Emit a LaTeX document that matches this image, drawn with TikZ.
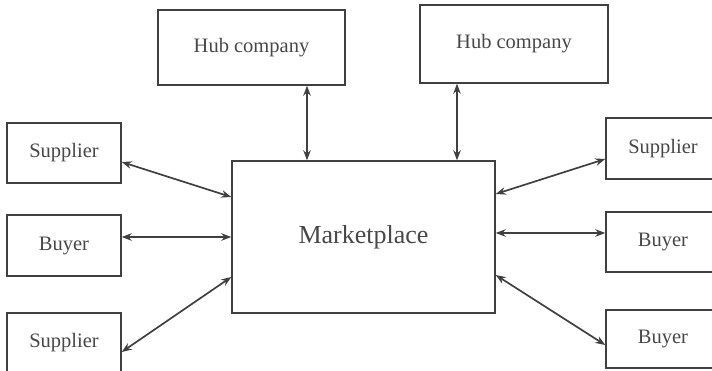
\documentclass[tikz,border=0pt]{standalone}
\usepackage{fontspec}
\setmainfont{Liberation Serif}
\usetikzlibrary{arrows.meta}
\definecolor{ink}{HTML}{404040}
\definecolor{txt}{HTML}{484848}
\tikzset{
  box/.style={draw=ink, line width=1.4pt, rectangle, text=txt, inner sep=0pt,
    font=\fontsize{20.5}{24}\selectfont},
  conn/.style={draw=ink, line width=1.7pt, {Stealth[length=10pt,width=7.5pt]}-{Stealth[length=10pt,width=7.5pt]}}
}
\begin{document}
\begin{tikzpicture}[x=1pt,y=-1pt]
\useasboundingbox (0,0) rectangle (712,370);
\clip (0,0) rectangle (712,370);
\fill[white] (0,0) rectangle (712,370);
\node[box, minimum width=187pt, minimum height=75pt] (hubL) at (251.5,47.5) {Hub company};
\node[box, minimum width=188pt, minimum height=78pt] (hubR) at (514,44) {Hub company};
\node[box, minimum width=263pt, minimum height=152pt, font=\fontsize{26}{30}\selectfont] (market) at (363.5,237) {Marketplace};
\node[box, minimum width=114pt, minimum height=60pt] (supL1) at (64,153) {Supplier};
\node[box, minimum width=114pt, minimum height=61pt] (buyL) at (64,245.5) {Buyer};
\node[box, minimum width=114pt, minimum height=60pt] (supL2) at (64,343) {Supplier};
\node[box, minimum width=114pt, minimum height=61pt] (supR) at (663,148.5) {Supplier};
\node[box, minimum width=114pt, minimum height=60pt] (buyR1) at (663,242) {Buyer};
\node[box, minimum width=114pt, minimum height=58pt] (buyR2) at (663,339) {Buyer};
\draw[conn] ([xshift=55.5pt]hubL.south) -- ([xshift=-56.5pt]market.north);
\draw[conn] ([xshift=-57pt]hubR.south) -- ([xshift=93.5pt]market.north);
\draw[conn] ([yshift=-9pt]supL1.east) -- ([yshift=40pt]market.west);
\draw[conn] ([yshift=8.5pt]buyL.east) -- (market.west);
\draw[conn] ([yshift=-9pt]supL2.east) -- ([yshift=-40pt]market.west);
\draw[conn] ([yshift=43pt]market.east) -- ([yshift=-10.5pt]supR.west);
\draw[conn] ([yshift=4pt]market.east) -- ([yshift=9pt]buyR1.west);
\draw[conn] ([yshift=-38pt]market.east) -- ([yshift=-6pt]buyR2.west);
\end{tikzpicture}
\end{document}
